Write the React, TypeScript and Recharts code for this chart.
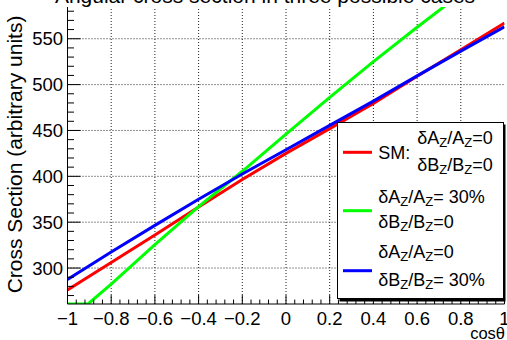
import React from "react";
import { LineChart, Line, XAxis, YAxis, ReferenceLine, Legend } from "recharts";

// ---- data ----
const cosTheta = [-1, -0.8, -0.6, -0.4, -0.2, 0, 0.2, 0.4, 0.6, 0.8, 1];
const smValues = [276, 306, 336, 366.5, 396.5, 425, 452, 479.5, 509, 538, 567];
const bzValues = [287.5, 317.5, 346.5, 375, 402.5, 429, 455.5, 482, 509.5, 536.5, 563];
const azCos = [-1, -0.906, -0.8, -0.6, -0.4, -0.2, 0, 0.2, 0.4, 0.6, 0.8];
const azValues = [260.8, 260.8, 282.5, 325.5, 367, 405.5, 446, 486, 525, 562.5, 599];

const seriesNames = ["SM", "dAz30", "dBz30"];
const seriesColors = ["#ff0000", "#00ff00", "#0000ff"];

const xMajorTicks = [-1, -0.8, -0.6, -0.4, -0.2, 0, 0.2, 0.4, 0.6, 0.8, 1];
const yMajorTicks = [300, 350, 400, 450, 500, 550];
const xDomain = [-1, 1];
const yDomain = [260.8, 584.6];

const titleText = "Angular cross section in three possible cases";
const yTitle = "Cross Section (arbitrary units)";
const xTitle = "cos\u03b8";

const xAllTicks = Array.from({ length: 51 }, (_, i) => Math.round((-1 + i * 0.04) * 100) / 100);
const yAllTicks = Array.from({ length: 32 }, (_, i) => 270 + i * 10);

const toRows = (xs: number[], ys: number[]) => xs.map((x, i) => ({ x, y: ys[i] }));
const smData = toRows(cosTheta, smValues);
const bzData = toRows(cosTheta, bzValues);
const azData = toRows(azCos, azValues);

const FONT = "'Liberation Sans', Arial, Helvetica, sans-serif";

const isMajorX = (v: number) => xMajorTicks.some((m) => Math.abs(m - v) < 1e-6);
const isMajorY = (v: number) => yMajorTicks.includes(v);
const fmtX = (v: number) => {
  const r = Math.round(v * 100) / 100;
  if (r === 0) return "0";
  return (r < 0 ? "\u2212" : "") + String(Math.abs(r));
};

const X_MAJ = 8.9, X_MIN = 4.45, Y_MAJ = 13, Y_MIN = 6.5;

const BottomTick = (p: any) => {
  const v = p.payload.value;
  const maj = isMajorX(v);
  return (
    <g>
      <line x1={p.x} x2={p.x} y1={p.y} y2={p.y - (maj ? X_MAJ : X_MIN)} stroke="#000" strokeWidth={1} />
      {maj && (
        <text x={p.x} y={p.y + 21} textAnchor="middle" fontSize={18.5} fontFamily={FONT} fill="#000">
          {fmtX(v)}
        </text>
      )}
    </g>
  );
};
const TopTick = (p: any) => {
  const v = p.payload.value;
  const maj = isMajorX(v);
  return <line x1={p.x} x2={p.x} y1={p.y} y2={p.y + (maj ? X_MAJ : X_MIN)} stroke="#000" strokeWidth={1} />;
};
const LeftTick = (p: any) => {
  const v = p.payload.value;
  const maj = isMajorY(v);
  return (
    <g>
      <line x1={p.x} x2={p.x + (maj ? Y_MAJ : Y_MIN)} y1={p.y} y2={p.y} stroke="#000" strokeWidth={1} />
      {maj && (
        <text x={p.x - 4.5} y={p.y + 6.7} textAnchor="end" fontSize={18.5} fontFamily={FONT} fill="#000">
          {String(v)}
        </text>
      )}
    </g>
  );
};
const RightTick = (p: any) => {
  const v = p.payload.value;
  const maj = isMajorY(v);
  return <line x1={p.x} x2={p.x - (maj ? Y_MAJ : Y_MIN)} y1={p.y} y2={p.y} stroke="#000" strokeWidth={1} />;
};

const Sub = ({ children }: { children: string }) => (
  <tspan dy={3} fontSize={13}>
    {children}
  </tspan>
);
const Ratio = ({ letter, rest, x, y }: { letter: string; rest: string; x: number; y: number }) => (
  <text x={x} y={y} fontSize={18} fontFamily={FONT} fill="#000">
    <tspan>{"\u03b4" + letter}</tspan>
    <Sub>Z</Sub>
    <tspan dy={-3}>{"/" + letter}</tspan>
    <Sub>Z</Sub>
    <tspan dy={-3}>{rest}</tspan>
  </text>
);

const LegendBox = () => (
  <svg width={170} height={182} style={{ display: "block" }}>
    <rect x={2.5} y={2.5} width={166} height={177} fill="#000" />
    <rect x={0.5} y={0.5} width={166} height={176} fill="#fff" stroke="#000" strokeWidth={1} />
    <line x1={6} x2={35} y1={30.3} y2={30.3} stroke={seriesColors[0]} strokeWidth={3} />
    <text x={41.3} y={36.5} fontSize={18} fontFamily={FONT} fill="#000">{seriesNames[0] + ":"}</text>
    <Ratio letter="A" rest="=0" x={80.3} y={22.3} />
    <Ratio letter="B" rest="=0" x={80.3} y={49} />
    <line x1={6} x2={35} y1={88.7} y2={88.7} stroke={seriesColors[1]} strokeWidth={3} />
    <Ratio letter="A" rest="= 30%" x={41.3} y={81.3} />
    <Ratio letter="B" rest="=0" x={41.3} y={106.3} />
    <line x1={6} x2={35} y1={148.7} y2={148.7} stroke={seriesColors[2]} strokeWidth={3} />
    <Ratio letter="A" rest="=0" x={41.3} y={136.3} />
    <Ratio letter="B" rest="= 30%" x={41.3} y={164} />
  </svg>
);

export default function App() {
  return (
    <div style={{ position: "absolute", left: 0, top: 0, width: 507, height: 340, background: "#fff" }}>
      <LineChart width={507} height={340} margin={{ top: 7, right: 2.5, bottom: 0, left: 0 }}>
        <XAxis
          xAxisId="b"
          type="number"
          dataKey="x"
          domain={xDomain}
          ticks={xAllTicks}
          interval={0}
          tick={<BottomTick />}
          tickLine={false}
          tickSize={0}
          tickMargin={0}
          height={36}
          axisLine={{ stroke: "#000" }}
          allowDataOverflow
        />
        <XAxis
          xAxisId="t"
          orientation="top"
          type="number"
          dataKey="x"
          domain={xDomain}
          ticks={xAllTicks}
          interval={0}
          tick={<TopTick />}
          tickLine={false}
          tickSize={0}
          tickMargin={0}
          height={0}
          axisLine={{ stroke: "#000" }}
          allowDataOverflow
        />
        <YAxis
          yAxisId="l"
          type="number"
          domain={yDomain}
          ticks={yAllTicks}
          interval={0}
          tick={<LeftTick />}
          tickLine={false}
          tickSize={0}
          tickMargin={0}
          width={67.5}
          axisLine={{ stroke: "#000" }}
          allowDataOverflow
        />
        <YAxis
          yAxisId="r"
          orientation="right"
          type="number"
          domain={yDomain}
          ticks={yAllTicks}
          interval={0}
          tick={<RightTick />}
          tickLine={false}
          tickSize={0}
          tickMargin={0}
          width={0}
          axisLine={{ stroke: "#000" }}
          allowDataOverflow
        />
        {xMajorTicks
          .filter((v) => v > xDomain[0] && v < xDomain[1])
          .map((v) => (
            <ReferenceLine key={"gx" + v} x={v} xAxisId="b" yAxisId="l" stroke="#222" strokeDasharray="1 2" strokeWidth={1} />
          ))}
        {yMajorTicks.map((v) => (
          <ReferenceLine key={"gy" + v} y={v} xAxisId="b" yAxisId="l" stroke="#222" strokeDasharray="1 2" strokeWidth={1} />
        ))}
        <Line data={smData} xAxisId="b" yAxisId="l" dataKey="y" name={seriesNames[0]} type="linear" stroke={seriesColors[0]} strokeWidth={3} dot={false} activeDot={false} isAnimationActive={false} />
        <Line data={azData} xAxisId="b" yAxisId="l" dataKey="y" name={seriesNames[1]} type="linear" stroke={seriesColors[1]} strokeWidth={3} dot={false} activeDot={false} isAnimationActive={false} />
        <Line data={bzData} xAxisId="b" yAxisId="l" dataKey="y" name={seriesNames[2]} type="linear" stroke={seriesColors[2]} strokeWidth={3} dot={false} activeDot={false} isAnimationActive={false} />
        <Legend
          layout="horizontal"
          verticalAlign="middle"
          align="center"
          content={() => <LegendBox />}
          wrapperStyle={{ position: "absolute", left: 337, top: 122, width: 170, height: 182, margin: 0, padding: 0 }}
        />
      </LineChart>
      <svg width={507} height={340} style={{ position: "absolute", left: 0, top: 0, pointerEvents: "none" }}>
        <text x={265} y={3} textAnchor="middle" fontSize={21} fontFamily={FONT} fill="#000">{titleText}</text>
        <text x={21.7} y={154.5} textAnchor="middle" fontSize={21} fontFamily={FONT} fill="#000" transform="rotate(-90 21.7 154.5)">
          {yTitle}
        </text>
        <text x={505} y={339} textAnchor="end" fontSize={16.5} fontFamily={FONT} fill="#000">{xTitle}</text>
      </svg>
    </div>
  );
}
